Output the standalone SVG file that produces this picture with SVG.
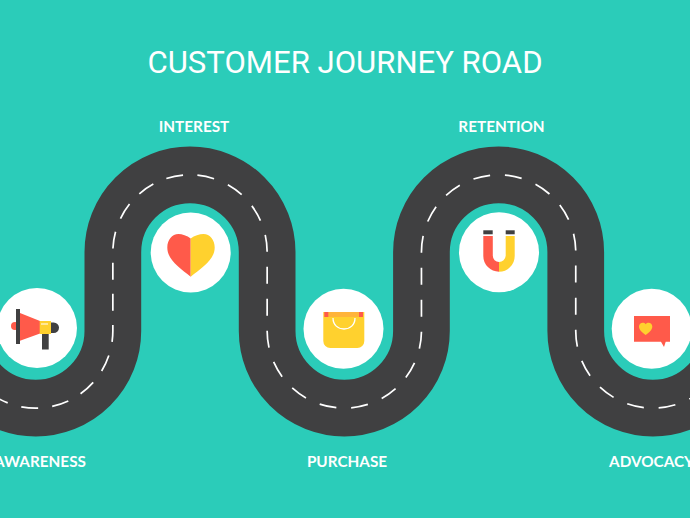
<svg xmlns="http://www.w3.org/2000/svg" width="690" height="518" viewBox="0 0 690 518">
<style>
.t{fill:#fff;text-anchor:middle}
.l{font-family:Lato,"Liberation Sans",sans-serif;font-size:15.300px;font-weight:700}
.h{font-family:Roboto,"Liberation Sans",sans-serif;font-size:31.100px;font-weight:400}
.c{fill:#fff}
.r{fill:#ff5a4a}
.y{fill:#ffd12e}
.d{fill:#404041}
.lane{stroke:#fff;stroke-width:1.700}
</style>
<rect width="690" height="518" fill="#2bccb9"/>
<g id="connectors" fill="none">
<path id="road" d="M-41.45 331A77.15 77.15 0 0 0 112.85 331V252A77.15 77.15 0 0 1 267.15 252V331A77.15 77.15 0 0 0 421.45 331V252A77.15 77.15 0 0 1 575.75 252V331A77.15 77.15 0 0 0 730.05 331" stroke="#404041" stroke-width="56.700"/>
<path class="lane" d="M190 174.850A77.15 77.15 0 0 0 112.850 252V331A77.15 77.15 0 0 1 -41.450 331" stroke-dasharray="17 14.140" stroke-dashoffset="-7.070"/>
<path class="lane" d="M190 174.850A77.15 77.15 0 0 1 267.150 252V331A77.15 77.15 0 0 0 421.450 331V252A77.15 77.15 0 0 1 575.750 252V331A77.15 77.15 0 0 0 730.050 331" stroke-dasharray="17 15.040" stroke-dashoffset="-7.520"/>
</g>
<text class="t h" x="345" y="72.500" id="title">CUSTOMER JOURNEY ROAD</text>
<g id="awareness">
<circle class="c" cx="37" cy="328" r="40"/>
<circle class="r" cx="15" cy="326" r="4"/>
<rect class="d" x="16" y="309" width="4" height="35"/>
<path class="r" d="M20 313L40 321V333.500L20 340.700Z"/>
<rect class="y" x="39.700" y="321" width="11.300" height="13"/>
<rect x="41" y="323.500" width="7" height="1" fill="#fff"/>
<path class="d" d="M51 322.400h2.700a5.300 5.300 0 0 1 0 10.600h-2.700Z"/>
<rect class="d" x="42" y="334" width="6.700" height="15.500"/>
<text class="t l" x="40" y="467">AWARENESS</text>
</g>
<g id="interest">
<circle class="c" cx="190.700" cy="252.500" r="40"/>
<path class="r" d="M190.700 238.500C187 235.500 182 234 178.500 234C172 234 167.300 240 167.300 247.500C167.300 260 180 268 190.700 276.700Z"/>
<path class="y" d="M190.700 238.500C194.400 235.500 199.400 234 203.500 234C210 234 214.700 240 214.700 247.500C214.700 260 201.400 268 190.700 276.700Z"/>
<text class="t l" x="194" y="132">INTEREST</text>
</g>
<g id="purchase">
<circle class="c" cx="343.500" cy="328.700" r="40"/>
<path class="y" d="M323.300 312H364.300V341A7 7 0 0 1 357.300 348H330.300A7 7 0 0 1 323.300 341Z"/>
<rect x="328" y="312" width="31" height="5" fill="#ffb43a"/>
<rect class="r" x="324.300" y="312" width="4" height="5"/>
<rect class="r" x="359" y="312" width="4" height="5"/>
<path d="M333 318C333 325 338 329 344 329C350 329 355 325 355 318" fill="none" stroke="#fff" stroke-width="1.300"/>
<text class="t l" x="347" y="467">PURCHASE</text>
</g>
<g id="retention">
<circle class="c" cx="499" cy="252.300" r="40"/>
<path class="r" d="M483.300 236H492.800V255.800A6.200 6.200 0 0 0 499 262V271.700A15.700 15.700 0 0 1 483.300 256Z"/>
<path class="y" d="M514.700 236H505.700V255.800A6.700 6.700 0 0 1 499 262V271.700A15.700 15.700 0 0 0 514.700 256Z"/>
<rect class="d" x="483.300" y="230.300" width="9.400" height="4"/>
<rect class="d" x="505.700" y="230.300" width="9" height="4"/>
<text class="t l" x="501.500" y="132">RETENTION</text>
</g>
<g id="advocacy">
<circle class="c" cx="651.700" cy="328.700" r="40"/>
<path class="r" d="M634 316H670V341.700H665.700L664 347L661 341.700H634Z"/>
<path class="y" d="M645.700 335C642 332.300 639 329.800 639 326.500C639 322.800 643.700 321.500 645.700 324.300C647.700 321.500 652.300 322.800 652.300 326.500C652.300 329.800 649.300 332.300 645.700 335Z"/>
<text class="t l" x="651.500" y="467">ADVOCACY</text>
</g>
</svg>
